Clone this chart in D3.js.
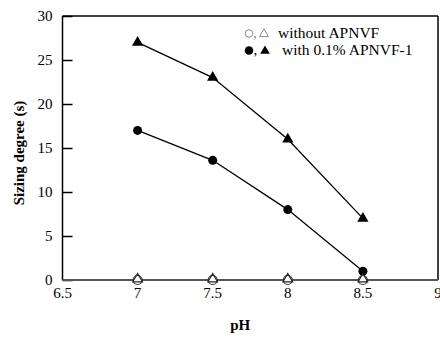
<!DOCTYPE html>
<html>
<head>
<meta charset="utf-8">
<script src="https://cdn.jsdelivr.net/npm/d3@7"></script>
<style>
  body { margin: 0; background: #fff; }
</style>
</head>
<body>
<div id="chart"></div>
<script>
// data
const phValues = [7, 7.5, 8, 8.5];
const withTriangle = [27, 23, 16, 7];
const withCircle = [17, 13.6, 8, 1];
const withoutValues = [0, 0, 0, 0];
const xTicks = [6.5, 7, 7.5, 8, 8.5, 9];
const yTicks = [0, 5, 10, 15, 20, 25, 30];
const legendLabels = ["without APNVF", "with 0.1% APNVF-1"];

const W = 440, H = 337;
const margin = { top: 16, right: 2, bottom: 57, left: 62.5 };
const width = W - margin.left - margin.right;
const height = H - margin.top - margin.bottom;
const serif = "'Liberation Serif', 'Times New Roman', Times, serif";

const svg = d3.select("#chart").append("svg")
  .attr("width", W).attr("height", H)
  .style("font-family", serif);
const g = svg.append("g")
  .attr("transform", "translate(" + margin.left + "," + margin.top + ")");

const x = d3.scaleLinear().domain([6.5, 9]).range([0, width]);
const y = d3.scaleLinear().domain([0, 30]).range([height, 0]);

// frame: top and right
g.append("line").attr("x1", 0).attr("x2", width).attr("y1", 0).attr("y2", 0)
  .attr("stroke", "#000").attr("stroke-width", 1.5);
g.append("line").attr("x1", width).attr("x2", width).attr("y1", 0).attr("y2", height)
  .attr("stroke", "#000").attr("stroke-width", 1.5);

// y axis, ticks inward
const yAxis = g.append("g")
  .call(d3.axisRight(y).tickValues(yTicks).tickSize(10).tickFormat(""));
yAxis.select(".domain").remove();
yAxis.selectAll("line").attr("stroke", "#000").attr("stroke-width", 1.5);
g.append("line").attr("x1", 0).attr("x2", 0).attr("y1", 0).attr("y2", height)
  .attr("stroke", "#000").attr("stroke-width", 1.5);
g.selectAll(".ylab").data(yTicks).enter().append("text")
  .attr("class", "ylab")
  .attr("x", -10).attr("y", d => y(d) + 5)
  .attr("text-anchor", "end").attr("font-size", 15)
  .style("font-family", serif)
  .text(d => d);

// x axis
g.append("line").attr("x1", 0).attr("x2", width).attr("y1", height).attr("y2", height)
  .attr("stroke", "#555").attr("stroke-width", 2);
g.selectAll(".xlab").data(xTicks).enter().append("text")
  .attr("class", "xlab")
  .attr("x", d => x(d)).attr("y", height + 18)
  .attr("text-anchor", "middle").attr("font-size", 15)
  .style("font-family", serif)
  .text(d => d);

// axis titles
g.append("text").attr("x", width / 2 - 10).attr("y", height + 50)
  .attr("text-anchor", "middle").attr("font-size", 15).attr("font-weight", "bold")
  .style("font-family", serif)
  .text("pH");
svg.append("text")
  .attr("transform", "translate(24," + 153 + ") rotate(-90)")
  .attr("text-anchor", "middle").attr("font-size", 15).attr("font-weight", "bold")
  .style("font-family", serif)
  .text("Sizing degree (s)");

const line = d3.line().x((d, i) => x(phValues[i])).y(d => y(d));

[withTriangle, withCircle].forEach(s => {
  g.append("path").datum(s).attr("d", line)
    .attr("fill", "none").attr("stroke", "#000").attr("stroke-width", 1.3);
});

const tri = d3.symbol().type(d3.symbolTriangle);

// filled markers
g.selectAll(".ftri").data(withTriangle).enter().append("path")
  .attr("d", tri.size(55))
  .attr("transform", (d, i) => "translate(" + x(phValues[i]) + "," + y(d) + ")")
  .attr("fill", "#000");
g.selectAll(".fcirc").data(withCircle).enter().append("circle")
  .attr("cx", (d, i) => x(phValues[i])).attr("cy", d => y(d)).attr("r", 4.5)
  .attr("fill", "#000");

// open markers at zero
g.selectAll(".ocirc").data(withoutValues).enter().append("circle")
  .attr("cx", (d, i) => x(phValues[i])).attr("cy", d => y(d)).attr("r", 4.5)
  .attr("fill", "#fff").attr("stroke", "#333").attr("stroke-width", 1.2);
g.selectAll(".otri").data(withoutValues).enter().append("path")
  .attr("d", tri.size(40))
  .attr("transform", (d, i) => "translate(" + x(phValues[i]) + "," + (y(d) - 1) + ")")
  .attr("fill", "none").attr("stroke", "#222").attr("stroke-width", 1.2);

// legend
const lg = svg.append("g").style("font-family", serif);
lg.append("circle").attr("cx", 249).attr("cy", 33.5).attr("r", 3.8)
  .attr("fill", "none").attr("stroke", "#888").attr("stroke-width", 1);
lg.append("text").attr("x", 253).attr("y", 38).attr("font-size", 15).attr("fill", "#888").text(",");
lg.append("path").attr("d", tri.size(35)())
  .attr("transform", "translate(264,34)")
  .attr("fill", "none").attr("stroke", "#888").attr("stroke-width", 1);
lg.append("text").attr("x", 278).attr("y", 38).attr("font-size", 15.5).text(legendLabels[0]);

lg.append("circle").attr("cx", 249).attr("cy", 50.5).attr("r", 4.3).attr("fill", "#000");
lg.append("text").attr("x", 253.5).attr("y", 55).attr("font-size", 15).text(",");
lg.append("path").attr("d", tri.size(40)())
  .attr("transform", "translate(265,51)").attr("fill", "#000");
lg.append("text").attr("x", 282).attr("y", 55).attr("font-size", 15.5).text(legendLabels[1]);
</script>
</body>
</html>
